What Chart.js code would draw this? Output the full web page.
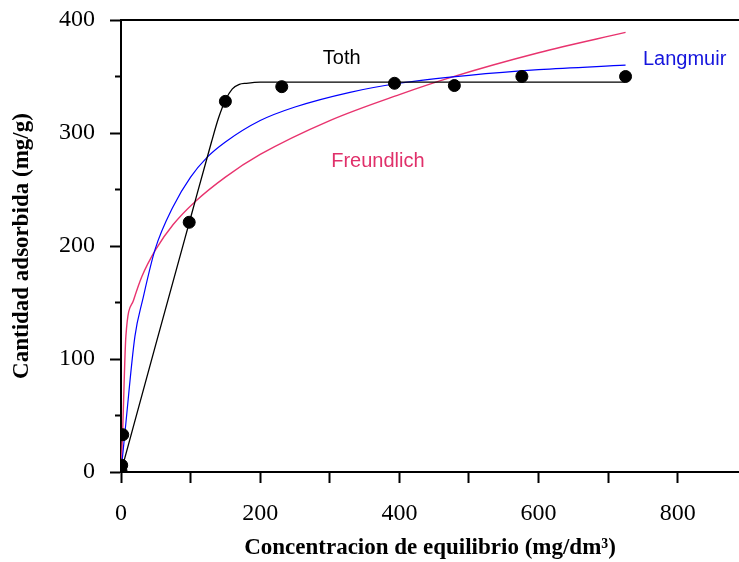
<!DOCTYPE html>
<html>
<head>
<meta charset="utf-8">
<script src="https://cdn.jsdelivr.net/npm/chart.js@4.4.1/dist/chart.umd.min.js"></script>
<style>
  html, body { margin: 0; padding: 0; background: #fff; }
  #wrap { width: 739px; height: 562px; }
</style>
</head>
<body>
<div id="wrap"><canvas id="myChart"></canvas></div>
<script>
// puntos experimentales
const expX = [0, 1, 2.5, 98, 150, 231, 393, 479, 576, 725];
const expY = [1, 6, 33, 221, 328, 341, 344, 342, 350, 350];

// modelo Toth
const tothX = [0, 50, 100, 130, 140, 150, 160, 170, 180, 200, 300, 500, 725];
const tothY = [0, 113, 225, 292, 313, 329, 339, 343, 344, 345, 345, 345, 345];

// modelo Langmuir
const langX = [0, 6, 20, 31, 49, 75, 100, 123, 150, 200, 250, 329, 400, 500, 600, 725];
const langY = [0, 37, 120, 152, 197, 235, 261, 278, 292, 311, 323, 336, 344, 351, 356, 360];

// modelo Freundlich
const freuX = [0, 2.4, 7, 18, 30, 50, 75, 106, 150, 200, 300, 400, 473, 600, 725];
const freuY = [0, 37, 120, 152, 173, 197, 219, 239, 261, 281, 311, 334, 349, 371, 389];

const yTicks = [0, 100, 200, 300, 400];
const yMinor = [50, 150, 250, 350];
const xTicks = [0, 100, 200, 300, 400, 500, 600, 700, 800];

// etiquetas de las curvas (x, y en unidades de datos)
const curveLabels = [
  { text: "Toth", x: 290, y: 366, color: "#000000" },
  { text: "Langmuir", x: 750, y: 365, color: "#1515dd" },
  { text: "Freundlich", x: 302, y: 275, color: "#e0306a" },
];

function toPoints(xs, ys) {
  return xs.map((x, i) => ({ x: x, y: ys[i] }));
}

// dibuja los ticks menores del eje y, la linea superior y las etiquetas
const extras = {
  id: "extras",
  afterDraw(chart) {
    const c = chart.ctx;
    const area = chart.chartArea;
    const y = chart.scales.y;
    const x = chart.scales.x;
    c.save();
    c.strokeStyle = "#000";
    c.lineWidth = 2;
    c.beginPath();
    c.moveTo(area.left, area.top);
    c.lineTo(chart.width, area.top);
    yMinor.forEach((v) => {
      const py = y.getPixelForValue(v);
      c.moveTo(area.left - 6, py);
      c.lineTo(area.left, py);
    });
    c.stroke();
    c.font = "20px 'Liberation Sans', Arial, sans-serif";
    c.textBaseline = "middle";
    c.textAlign = "left";
    curveLabels.forEach((l) => {
      c.fillStyle = l.color;
      c.fillText(l.text, x.getPixelForValue(l.x), y.getPixelForValue(l.y));
    });
    c.restore();
  },
};

const ctx = document.getElementById("myChart");

new Chart(ctx, {
  type: "scatter",
  data: {
    datasets: [
      {
        label: "Experimental",
        data: toPoints(expX, expY),
        backgroundColor: "#000",
        borderColor: "#000",
        pointRadius: 6,
        showLine: false,
      },
      {
        label: "Toth",
        data: toPoints(tothX, tothY),
        borderColor: "#000",
        borderWidth: 1.3,
        pointRadius: 0,
        showLine: true,
        cubicInterpolationMode: "monotone",
      },
      {
        label: "Langmuir",
        data: toPoints(langX, langY),
        borderColor: "#0000ff",
        borderWidth: 1.2,
        pointRadius: 0,
        showLine: true,
        cubicInterpolationMode: "monotone",
      },
      {
        label: "Freundlich",
        data: toPoints(freuX, freuY),
        borderColor: "#e8336e",
        borderWidth: 1.4,
        pointRadius: 0,
        showLine: true,
        cubicInterpolationMode: "monotone",
      },
    ],
  },
  options: {
    responsive: true,
    maintainAspectRatio: false,
    animation: false,
    layout: { autoPadding: false, padding: { top: 20, right: 0, left: 0, bottom: 0 } },
    plugins: {
      legend: { display: false },
      tooltip: { enabled: false },
    },
    scales: {
      x: {
        type: "linear",
        min: 0,
        max: 888,
        afterFit: (s) => {
          s.height = 90;
          s.paddingLeft = 0;
          s.paddingRight = 0;
        },
        afterBuildTicks: (s) => { s.ticks = xTicks.map((v) => ({ value: v })); },
        grid: { drawOnChartArea: false, drawTicks: true, tickLength: 11, tickWidth: 2, tickColor: "#000" },
        border: { color: "#000", width: 2 },
        ticks: {
          color: "#000",
          padding: 16,
          font: { family: "'Liberation Serif', 'Times New Roman', serif", size: 24 },
          callback: (v) => (v % 200 === 0 ? v : ""),
        },
        title: {
          display: true,
          text: "Concentracion de equilibrio (mg/dm³)",
          color: "#000",
          padding: { top: 0, bottom: 0 },
          font: { family: "'Liberation Serif', 'Times New Roman', serif", size: 23, weight: "bold" },
        },
      },
      y: {
        min: 0,
        max: 400,
        afterFit: (s) => {
          s.width = 121;
          s.paddingTop = 0;
          s.paddingBottom = 0;
        },
        afterBuildTicks: (s) => { s.ticks = yTicks.map((v) => ({ value: v })); },
        grid: { drawOnChartArea: false, drawTicks: true, tickLength: 11, tickWidth: 2, tickColor: "#000" },
        border: { color: "#000", width: 2 },
        ticks: {
          color: "#000",
          padding: 15,
          font: { family: "'Liberation Serif', 'Times New Roman', serif", size: 24 },
        },
        title: {
          display: true,
          text: "Cantidad adsorbida (mg/g)",
          color: "#000",
          padding: { top: 8, bottom: 0 },
          font: { family: "'Liberation Serif', 'Times New Roman', serif", size: 23, weight: "bold" },
        },
      },
    },
  },
  plugins: [extras],
});
</script>
</body>
</html>
